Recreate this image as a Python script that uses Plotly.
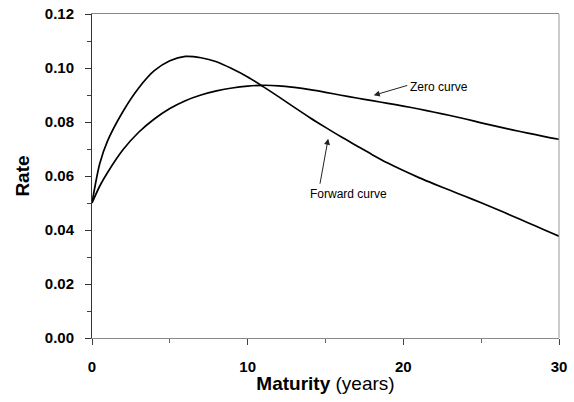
import plotly.graph_objects as go

maturity = [0, 0.5, 1, 2, 3, 4, 5, 6, 7, 8, 9, 10, 11, 12, 13, 14, 15, 16, 17, 18, 19, 20,
            21, 22, 23, 24, 25, 26, 27, 28, 29, 30]
forward_rate = [0.0500, 0.0646, 0.0730, 0.0840, 0.0926, 0.0990, 0.1027, 0.1043, 0.1038, 0.1023,
                0.0997, 0.0967, 0.0931, 0.0893, 0.0854, 0.0816, 0.0780, 0.0745, 0.0712, 0.0679,
                0.0648, 0.0620, 0.0594, 0.0570, 0.0547, 0.0524, 0.0501, 0.0477, 0.0452, 0.0427,
                0.0402, 0.0377]
zero_rate = [0.0500, 0.0563, 0.0613, 0.0698, 0.0762, 0.0811, 0.0850, 0.0879, 0.0900, 0.0915,
             0.0926, 0.0933, 0.0936, 0.0934, 0.0928, 0.0920, 0.0910, 0.0899, 0.0889, 0.0879,
             0.0869, 0.0859, 0.0848, 0.0836, 0.0824, 0.0811, 0.0797, 0.0784, 0.0771, 0.0759,
             0.0747, 0.0736]
x_ticks = [0, 10, 20, 30]
y_ticks = [0.00, 0.02, 0.04, 0.06, 0.08, 0.10, 0.12]

FONT = "Liberation Sans, Arial, sans-serif"

fig = go.Figure()
fig.add_trace(go.Scatter(x=maturity, y=zero_rate, mode="lines", name="Zero curve",
                         line=dict(color="black", width=1.7, shape="spline", smoothing=0.8)))
fig.add_trace(go.Scatter(x=maturity, y=forward_rate, mode="lines", name="Forward curve",
                         line=dict(color="black", width=1.7, shape="spline", smoothing=0.8)))

fig.update_layout(
    width=574, height=402,
    margin=dict(l=92, r=15, t=14, b=64),
    paper_bgcolor="white", plot_bgcolor="white",
    showlegend=False,
    font=dict(family=FONT, color="black"),
    xaxis=dict(
        range=[0, 30], tickvals=x_ticks, ticks="outside", ticklen=6, tickcolor="#444",
        showline=True, linecolor="#888", linewidth=1, mirror=True,
        showgrid=False, zeroline=False, automargin=False,
        tickfont=dict(size=15, family=FONT, weight="bold"),
        ticklabelstandoff=9,
        minor=dict(dtick=5, tick0=0, ticks="outside", ticklen=4, tickcolor="#666", showgrid=False),
        title=dict(text="<b>Maturity</b> (years)", font=dict(size=19, family=FONT), standoff=2),
    ),
    yaxis=dict(
        range=[0, 0.12], tickvals=y_ticks, tickformat=".2f", ticks="outside", ticklen=6,
        tickcolor="#333", showline=True, linecolor="#333", linewidth=1,
        showgrid=False, zeroline=False, automargin=False,
        tickfont=dict(size=15, family=FONT, weight="bold"),
        ticklabelstandoff=8,
        minor=dict(dtick=0.01, tick0=0, ticks="outside", ticklen=4, tickcolor="#444", showgrid=False),
        title=dict(text="<b>Rate</b>", font=dict(size=19, family=FONT), standoff=10),
    ),
    xaxis2=dict(range=[0, 30], tickvals=x_ticks, ticks="inside", ticklen=5, tickcolor="#444",
                overlaying="x", anchor="y", side="bottom", showticklabels=False, automargin=False,
                showline=False, showgrid=False, zeroline=False),
    yaxis2=dict(range=[0, 0.12], tickvals=y_ticks, ticks="inside", ticklen=5, tickcolor="#333",
                overlaying="y", anchor="x", side="left", showticklabels=False, automargin=False,
                showline=False, showgrid=False, zeroline=False),
)

# right border in light gray
fig.add_shape(type="line", xref="paper", yref="paper", x0=1, x1=1, y0=0, y1=1,
              line=dict(color="#999", width=1))

# annotation labels
fig.add_annotation(x=22.3, y=0.0931, xref="x", yref="y", text="Zero curve", showarrow=False,
                   font=dict(size=12, family=FONT, color="black"))
fig.add_annotation(x=16.5, y=0.0535, xref="x", yref="y", text="Forward curve", showarrow=False,
                   font=dict(size=12, family=FONT, color="black"))
# arrows
fig.add_annotation(x=18.1, y=0.0899, ax=20.35, ay=0.0937, xref="x", yref="y", axref="x", ayref="y",
                   text="", showarrow=True, arrowhead=2, arrowsize=1.2, arrowwidth=1, arrowcolor="#222")
fig.add_annotation(x=15.17, y=0.0738, ax=14.63, ay=0.0566, xref="x", yref="y", axref="x", ayref="y",
                   text="", showarrow=True, arrowhead=2, arrowsize=1.2, arrowwidth=1, arrowcolor="#222")

fig.write_html("out.html", config={"displayModeBar": False},
               post_script="document.body.style.margin='0';document.body.style.overflow='hidden';")
